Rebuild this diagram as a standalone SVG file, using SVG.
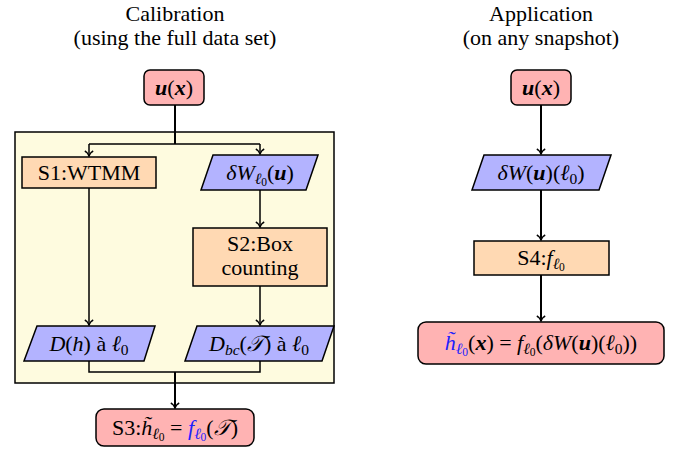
<svg xmlns="http://www.w3.org/2000/svg" width="677" height="451" viewBox="0 0 677 451" font-family="'Liberation Serif', 'Times New Roman', serif">
<style>
text{font-family:'Liberation Serif','Times New Roman',serif;font-size:22px;text-anchor:middle;fill:#000}
.i{font-style:italic}
.bi{font-style:italic;font-weight:bold}
.s{font-size:15.5px}
.ss{font-size:11.5px}
.blue{fill:#2020ff}
.red{fill:#ffb3b3;stroke:#000;stroke-width:1.5}
.org{fill:#ffd9b3;stroke:#000;stroke-width:1.5}
.blu{fill:#b3b3ff;stroke:#000;stroke-width:1.5}
.c{fill:none;stroke:#000;stroke-width:1.5}
.ck{fill:none;stroke:#000;stroke-width:2}
</style>
<defs>
<marker id="ah" markerUnits="userSpaceOnUse" markerWidth="12" markerHeight="12" viewBox="-6 -6 12 12" refX="0" refY="0" orient="auto">
<path d="M-5,-4.2 C-3.8,-1.8 -1.6,-0.5 0,0 C-1.6,0.5 -3.8,1.8 -5,4.2" fill="none" stroke="#000" stroke-width="1.4"/>
</marker>
</defs>

<!-- headings -->
<text x="175" y="21">Calibration</text>
<text x="175" y="45">(using the full data set)</text>
<text x="541" y="21">Application</text>
<text x="541" y="45">(on any snapshot)</text>

<!-- calibration frame -->
<rect id="frame" x="15" y="132" width="319" height="251" fill="#fefbdf" stroke="#000" stroke-width="1.5"/>

<g id="connectors">
<path class="ck" d="M175,105 V144"/>
<path class="c" d="M89,144 H260"/>
<path class="c" d="M89,144 V156" marker-end="url(#ah)"/>
<path class="c" d="M260,144 V154" marker-end="url(#ah)"/>
<path class="c" d="M89,188 V325" marker-end="url(#ah)"/>
<path class="c" d="M260,190 V227" marker-end="url(#ah)"/>
<path class="c" d="M260,286 V325" marker-end="url(#ah)"/>
<path class="c" d="M89,361 V372 H260 V361"/>
<path class="ck" d="M175,372 V408" marker-end="url(#ah)"/>
<path class="ck" d="M541,105 V154" marker-end="url(#ah)"/>
<path class="ck" d="M541,190 V240" marker-end="url(#ah)"/>
<path class="ck" d="M541,275 V321" marker-end="url(#ah)"/>
</g>

<g id="ux-left">
<rect class="red" x="144" y="70" width="60" height="35" rx="6"/>
<text x="174" y="95"><tspan class="bi">u</tspan>(<tspan class="bi">x</tspan>)</text>
</g>

<g id="s1">
<rect class="org" x="22" y="157" width="134" height="31"/>
<text x="89" y="180">S1:WTMM</text>
</g>

<g id="dw-left">
<polygon class="blu" points="213,155 318,155 306,190 201,190"/>
<text x="260" y="180"><tspan class="i">δW</tspan><tspan class="s i" dy="4">ℓ</tspan><tspan class="ss" dy="2">0</tspan><tspan dy="-6">(</tspan><tspan class="bi">u</tspan>)</text>
</g>

<g id="s2">
<rect class="org" x="193" y="228" width="134" height="58"/>
<text x="260" y="251">S2:Box</text>
<text x="260" y="275">counting</text>
</g>

<g id="dh">
<polygon class="blu" points="37,326 155,326 144,361 24,361"/>
<text x="89" y="351"><tspan class="i">D</tspan>(<tspan class="i">h</tspan>) à <tspan class="i">ℓ</tspan><tspan class="s" dy="4">0</tspan></text>
</g>

<g id="dbc">
<polygon class="blu" points="197,326 334,326 322,361 185,361"/>
<text x="259" y="351"><tspan class="i">D</tspan><tspan class="s i" dy="4">bc</tspan><tspan dy="-4">(</tspan><tspan class="i">𝒯</tspan>) à <tspan class="i">ℓ</tspan><tspan class="s" dy="4">0</tspan></text>
</g>

<g id="s3">
<rect class="red" x="96" y="409" width="158" height="37" rx="8"/>
<text x="175" y="435">S3:<tspan class="i">h̃</tspan><tspan class="s i" dy="4">ℓ</tspan><tspan class="ss" dy="2">0</tspan><tspan dy="-6"> = </tspan><tspan class="i blue">f</tspan><tspan class="s i blue" dy="4">ℓ</tspan><tspan class="ss blue" dy="2">0</tspan><tspan dy="-6">(</tspan><tspan class="i">𝒯</tspan>)</text>
</g>

<g id="ux-right">
<rect class="red" x="511" y="70" width="60" height="35" rx="6"/>
<text x="541" y="95"><tspan class="bi">u</tspan>(<tspan class="bi">x</tspan>)</text>
</g>

<g id="dw-right">
<polygon class="blu" points="484,155 611,155 599,190 472,190"/>
<text x="541" y="180"><tspan class="i">δW</tspan>(<tspan class="bi">u</tspan>)(<tspan class="i">ℓ</tspan><tspan class="s" dy="4">0</tspan><tspan dy="-4">)</tspan></text>
</g>

<g id="s4">
<rect class="org" x="474" y="241" width="135" height="34"/>
<text x="541" y="265">S4:<tspan class="i">f</tspan><tspan class="s i" dy="4">ℓ</tspan><tspan class="ss" dy="2">0</tspan></text>
</g>

<g id="result">
<rect class="red" x="418" y="322" width="246" height="42" rx="8"/>
<text x="541" y="350"><tspan class="i blue">h̃</tspan><tspan class="s i blue" dy="4">ℓ</tspan><tspan class="ss blue" dy="2">0</tspan><tspan dy="-6">(</tspan><tspan class="bi">x</tspan>) = <tspan class="i">f</tspan><tspan class="s i" dy="4">ℓ</tspan><tspan class="ss" dy="2">0</tspan><tspan dy="-6">(</tspan><tspan class="i">δW</tspan>(<tspan class="bi">u</tspan>)(<tspan class="i">ℓ</tspan><tspan class="s" dy="4">0</tspan><tspan dy="-4">))</tspan></text>
</g>
</svg>
